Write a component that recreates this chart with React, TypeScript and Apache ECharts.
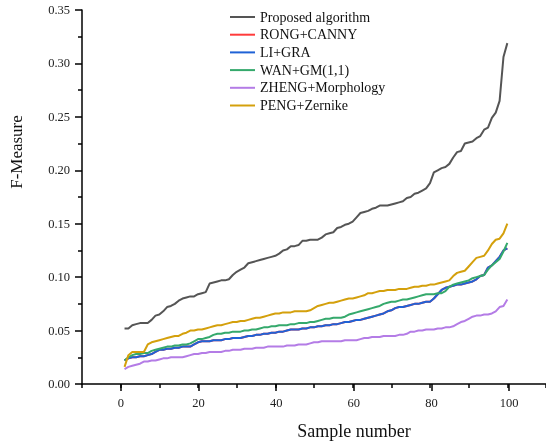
import React, { useEffect, useRef } from "react";
import * as echarts from "echarts";

const seriesNames = [
  "Proposed algorithm",
  "RONG+CANNY",
  "LI+GRA",
  "WAN+GM(1,1)",
  "ZHENG+Morphology",
  "PENG+Zernike",
];
const seriesColors = ["#555555", "#ff3b3b", "#1f62d6", "#35a96c", "#b47ce6", "#d4a00c"];

const proposed = [
  0.052, 0.052, 0.055, 0.056, 0.057, 0.057, 0.057, 0.060, 0.064, 0.065,
  0.068, 0.072, 0.073, 0.075, 0.078, 0.080, 0.081, 0.082, 0.082, 0.084,
  0.085, 0.086, 0.094, 0.095, 0.096, 0.097, 0.097, 0.098, 0.102, 0.105,
  0.107, 0.109, 0.113, 0.114, 0.115, 0.116, 0.117, 0.118, 0.119, 0.120,
  0.122, 0.125, 0.126, 0.129, 0.129, 0.130, 0.134, 0.134, 0.135, 0.135,
  0.135, 0.137, 0.140, 0.141, 0.142, 0.146, 0.147, 0.149, 0.150, 0.152,
  0.156, 0.160, 0.161, 0.162, 0.164, 0.165, 0.167, 0.167, 0.167, 0.168,
  0.169, 0.170, 0.171, 0.174, 0.175, 0.178, 0.179, 0.181, 0.183, 0.188,
  0.198, 0.200, 0.202, 0.203, 0.206, 0.212, 0.217, 0.218, 0.225, 0.226,
  0.227, 0.230, 0.232, 0.238, 0.240, 0.249, 0.254, 0.265, 0.306, 0.319,
];

const liGra = [
  0.022, 0.024, 0.025, 0.025, 0.026, 0.026, 0.027, 0.028, 0.030, 0.032,
  0.032, 0.033, 0.033, 0.034, 0.034, 0.035, 0.035, 0.035, 0.037, 0.039,
  0.040, 0.040, 0.040, 0.041, 0.041, 0.041, 0.042, 0.042, 0.043, 0.043,
  0.043, 0.044, 0.045, 0.045, 0.046, 0.046, 0.047, 0.047, 0.048, 0.048,
  0.049, 0.049, 0.050, 0.051, 0.051, 0.051, 0.052, 0.052, 0.053, 0.053,
  0.054, 0.054, 0.055, 0.055, 0.056, 0.056, 0.057, 0.058, 0.058, 0.059,
  0.060, 0.060, 0.061, 0.062, 0.063, 0.064, 0.065, 0.066, 0.068, 0.069,
  0.071, 0.072, 0.072, 0.073, 0.074, 0.075, 0.075, 0.076, 0.077, 0.077,
  0.080, 0.084, 0.088, 0.090, 0.091, 0.092, 0.093, 0.093, 0.094, 0.095,
  0.096, 0.098, 0.101, 0.102, 0.109, 0.111, 0.115, 0.119, 0.125, 0.127,
];

const rongCanny = [
  0.022, 0.024, 0.025, 0.025, 0.026, 0.026, 0.027, 0.028, 0.030, 0.032,
  0.032, 0.033, 0.033, 0.034, 0.034, 0.035, 0.035, 0.035, 0.037, 0.039,
  0.040, 0.040, 0.040, 0.041, 0.041, 0.041, 0.042, 0.042, 0.043, 0.043,
  0.043, 0.044, 0.045, 0.045, 0.046, 0.046, 0.047, 0.047, 0.048, 0.048,
  0.049, 0.049, 0.050, 0.051, 0.051, 0.051, 0.052, 0.052, 0.053, 0.053,
  0.054, 0.054, 0.055, 0.055, 0.056, 0.056, 0.057, 0.058, 0.058, 0.059,
  0.060, 0.060, 0.061, 0.062, 0.063, 0.064, 0.065, 0.066, 0.068, 0.069,
  0.071, 0.072, 0.072, 0.073, 0.074, 0.075, 0.075, 0.076, 0.077, 0.077,
  0.080, 0.084, 0.088, 0.090, 0.091, 0.092, 0.093, 0.093, 0.094, 0.095,
  0.096, 0.098, 0.101, 0.102, 0.109, 0.111, 0.115, 0.119, 0.125, 0.127,
];

const wanGm = [
  0.022, 0.025, 0.027, 0.028, 0.028, 0.029, 0.029, 0.031, 0.032, 0.033,
  0.034, 0.035, 0.035, 0.036, 0.036, 0.037, 0.037, 0.038, 0.040, 0.042,
  0.042, 0.043, 0.044, 0.046, 0.047, 0.047, 0.048, 0.048, 0.049, 0.049,
  0.049, 0.050, 0.050, 0.051, 0.051, 0.052, 0.053, 0.053, 0.054, 0.054,
  0.055, 0.055, 0.055, 0.056, 0.056, 0.057, 0.057, 0.057, 0.058, 0.058,
  0.059, 0.060, 0.061, 0.061, 0.062, 0.062, 0.062, 0.063, 0.065, 0.066,
  0.067, 0.068, 0.069, 0.070, 0.071, 0.072, 0.073, 0.075, 0.076, 0.077,
  0.077, 0.078, 0.079, 0.079, 0.080, 0.081, 0.082, 0.083, 0.084, 0.084,
  0.084, 0.085, 0.085, 0.087, 0.091, 0.093, 0.094, 0.095, 0.096, 0.097,
  0.099, 0.100, 0.101, 0.102, 0.107, 0.111, 0.114, 0.117, 0.124, 0.132,
];

const zhengMorph = [
  0.014, 0.016, 0.017, 0.018, 0.019, 0.021, 0.021, 0.022, 0.022, 0.023,
  0.024, 0.024, 0.025, 0.025, 0.025, 0.025, 0.026, 0.027, 0.028, 0.028,
  0.029, 0.029, 0.030, 0.030, 0.030, 0.030, 0.031, 0.031, 0.032, 0.032,
  0.032, 0.033, 0.033, 0.033, 0.034, 0.034, 0.034, 0.035, 0.035, 0.035,
  0.035, 0.035, 0.036, 0.036, 0.036, 0.037, 0.037, 0.037, 0.038, 0.039,
  0.039, 0.040, 0.040, 0.040, 0.040, 0.040, 0.040, 0.041, 0.041, 0.041,
  0.041, 0.042, 0.043, 0.043, 0.044, 0.044, 0.044, 0.045, 0.045, 0.045,
  0.045, 0.046, 0.046, 0.047, 0.049, 0.049, 0.050, 0.050, 0.051, 0.051,
  0.051, 0.052, 0.052, 0.053, 0.053, 0.054, 0.056, 0.058, 0.059, 0.061,
  0.063, 0.064, 0.064, 0.065, 0.065, 0.066, 0.068, 0.072, 0.073, 0.079,
];

const pengZernike = [
  0.016, 0.027, 0.030, 0.030, 0.030, 0.030, 0.037, 0.039, 0.040, 0.041,
  0.042, 0.043, 0.044, 0.045, 0.045, 0.047, 0.048, 0.050, 0.050, 0.051,
  0.051, 0.052, 0.053, 0.054, 0.055, 0.055, 0.056, 0.057, 0.058, 0.058,
  0.059, 0.059, 0.060, 0.061, 0.062, 0.062, 0.063, 0.064, 0.065, 0.066,
  0.066, 0.067, 0.067, 0.067, 0.068, 0.068, 0.068, 0.068, 0.069, 0.071,
  0.073, 0.074, 0.075, 0.076, 0.076, 0.077, 0.078, 0.079, 0.080, 0.080,
  0.081, 0.082, 0.083, 0.085, 0.085, 0.086, 0.087, 0.087, 0.088, 0.088,
  0.088, 0.089, 0.089, 0.089, 0.090, 0.091, 0.091, 0.092, 0.092, 0.093,
  0.093, 0.094, 0.095, 0.096, 0.097, 0.101, 0.104, 0.105, 0.106, 0.110,
  0.114, 0.118, 0.119, 0.120, 0.125, 0.131, 0.135, 0.136, 0.141, 0.150,
];

const seriesValues = [proposed, rongCanny, liGra, wanGm, zhengMorph, pengZernike];

const xMajorTicks = [0, 20, 40, 60, 80, 100];
const yTicks = [0, 0.05, 0.1, 0.15, 0.2, 0.25, 0.3, 0.35];

const FONT = "Liberation Serif";

const ls = () => ({ color: "#000", width: 1.5 });

export default function App() {
  const ref = useRef<HTMLDivElement>(null);

  useEffect(() => {
    if (!ref.current) return;
    const chart = echarts.init(ref.current, null, { renderer: "svg" });

    const gLeft = 82;
    const gTop = 10;
    const gW = 466;
    const gH = 374;
    const xMin = -10;
    const xMax = 110;
    const unit = gW / (xMax - xMin);
    const bLeft = gLeft + (xMajorTicks[0] - xMin) * unit;
    const bW = (xMajorTicks[xMajorTicks.length - 1] - xMajorTicks[0]) * unit;

    const drawOrder = [1, 2, 3, 4, 5, 0];

    chart.setOption({
      animation: false,
      grid: [
        { left: gLeft, top: gTop, width: gW, height: gH },
        { left: bLeft, top: gTop, width: bW, height: gH },
      ],
      xAxis: [
        {
          type: "value",
          gridIndex: 0,
          min: xMin,
          max: xMax,
          interval: 10,
          axisLine: { show: true, onZero: false, lineStyle: ls() },
          axisTick: { show: true, length: 4, lineStyle: ls() },
          axisLabel: { show: false },
          splitLine: { show: false },
        },
        {
          type: "value",
          gridIndex: 1,
          min: xMajorTicks[0],
          max: xMajorTicks[xMajorTicks.length - 1],
          interval: 20,
          axisLine: { show: false, onZero: false },
          axisTick: { show: true, length: 7, lineStyle: ls() },
          axisLabel: {
            show: true,
            margin: 12,
            fontFamily: FONT,
            fontSize: 12.5,
            color: "#222",
          },
          splitLine: { show: false },
        },
      ],
      yAxis: [
        {
          type: "value",
          gridIndex: 0,
          min: yTicks[0],
          max: yTicks[yTicks.length - 1],
          interval: 0.05,
          axisLine: { show: true, onZero: false, lineStyle: ls() },
          axisTick: { show: true, length: 7, lineStyle: ls() },
          minorTick: { show: true, splitNumber: 2, length: 4, lineStyle: ls() },
          axisLabel: {
            margin: 12,
            fontFamily: FONT,
            fontSize: 12.5,
            color: "#222",
            formatter: (v: number) => v.toFixed(2),
          },
          splitLine: { show: false },
        },
        {
          type: "value",
          gridIndex: 1,
          min: 0,
          max: 0.35,
          axisLine: { show: false },
          axisTick: { show: false },
          axisLabel: { show: false },
          splitLine: { show: false },
        },
      ],
      legend: {
        orient: "vertical",
        left: 225,
        top: 5,
        icon: "rect",
        itemWidth: 25,
        itemHeight: 2,
        itemGap: 3.7,
        data: seriesNames,
        textStyle: { fontFamily: FONT, fontSize: 14, color: "#111" },
      },
      graphic: [
        {
          type: "text",
          x: 16,
          y: 152,
          rotation: Math.PI / 2,
          style: {
            text: "F-Measure",
            font: `17px "${FONT}"`,
            fill: "#111",
            align: "center",
            verticalAlign: "middle",
          },
        },
        {
          type: "text",
          x: 354,
          y: 431,
          style: {
            text: "Sample number",
            font: `18px "${FONT}"`,
            fill: "#111",
            align: "center",
            verticalAlign: "middle",
          },
        },
      ],
      series: drawOrder.map((i) => ({
        name: seriesNames[i],
        type: "line",
        xAxisIndex: 0,
        yAxisIndex: 0,
        symbol: "none",
        showSymbol: false,
        color: seriesColors[i],
        lineStyle: { color: seriesColors[i], width: 2 },
        data: seriesValues[i].map((v, k) => [k + 1, v]),
      })),
    });

    return () => chart.dispose();
  }, []);

  return (
    <div
      ref={ref}
      style={{ position: "fixed", left: 0, top: 0, width: 546, height: 445 }}
    />
  );
}
